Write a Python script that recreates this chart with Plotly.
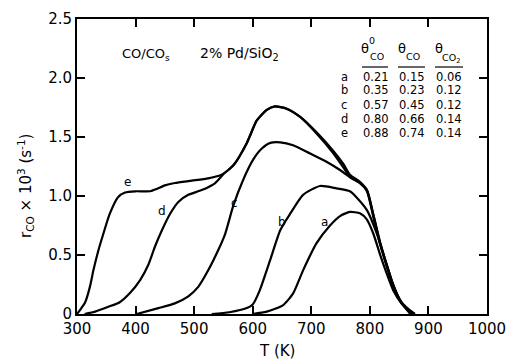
import plotly.graph_objects as go

# ---- data ----
e_T = [300, 306, 314, 322, 328, 336, 345, 356, 370, 382, 400, 425, 436, 450, 467, 496, 524, 547, 567, 590, 607, 624, 638, 658, 681, 709, 738, 755, 766, 783, 795, 806, 817, 829, 840, 854, 874]
e_r = [0, 0.04, 0.10, 0.23, 0.37, 0.53, 0.68, 0.85, 0.99, 1.03, 1.04, 1.04, 1.06, 1.09, 1.11, 1.13, 1.15, 1.18, 1.26, 1.45, 1.64, 1.73, 1.76, 1.74, 1.67, 1.54, 1.38, 1.27, 1.18, 1.12, 1.05, 0.84, 0.61, 0.41, 0.24, 0.10, 0]

d_T = [313, 331, 353, 373, 390, 408, 422, 433, 445, 459, 473, 490, 513, 536, 551, 567, 590, 607, 624, 638, 658, 681, 709, 738, 755, 766, 783, 795, 806, 817, 829, 840, 854, 872]
d_r = [0, 0.02, 0.06, 0.10, 0.175, 0.29, 0.42, 0.57, 0.71, 0.85, 0.95, 1.01, 1.05, 1.11, 1.19, 1.26, 1.45, 1.64, 1.73, 1.76, 1.74, 1.67, 1.53, 1.36, 1.24, 1.16, 1.11, 1.04, 0.82, 0.60, 0.40, 0.23, 0.09, 0]

c_T = [402, 439, 467, 490, 507, 524, 541, 553, 567, 584, 601, 615, 630, 647, 669, 698, 726, 749, 766, 783, 795, 806, 818, 830, 841, 855, 877]
c_r = [0, 0.05, 0.09, 0.15, 0.23, 0.37, 0.54, 0.68, 0.92, 1.14, 1.31, 1.40, 1.45, 1.455, 1.43, 1.36, 1.29, 1.22, 1.16, 1.11, 1.05, 0.84, 0.60, 0.40, 0.23, 0.09, 0]

b_T = [530, 560, 590, 600, 612, 630, 647, 664, 686, 715, 743, 766, 777, 795, 812, 826, 837, 851, 869]
b_r = [0, 0.015, 0.05, 0.08, 0.2, 0.46, 0.71, 0.85, 1.01, 1.085, 1.065, 1.04, 0.99, 0.88, 0.68, 0.46, 0.29, 0.12, 0]

a_T = [600, 624, 652, 669, 686, 709, 732, 749, 766, 783, 795, 806, 817, 829, 840, 854, 871]
a_r = [0, 0.02, 0.076, 0.175, 0.37, 0.60, 0.75, 0.83, 0.865, 0.853, 0.80, 0.68, 0.51, 0.34, 0.20, 0.09, 0]

curve_labels = ["a", "b", "c", "d", "e"]
label_T = [722, 650, 569, 445, 387]
label_r = [0.78, 0.78, 0.94, 0.87, 1.12]

theta0_co = [0.21, 0.35, 0.57, 0.80, 0.88]
theta_co = [0.15, 0.23, 0.45, 0.66, 0.74]
theta_co2 = [0.06, 0.12, 0.12, 0.14, 0.14]

x_ticks = [300, 400, 500, 600, 700, 800, 900, 1000]
y_ticks = [0, 0.5, 1.0, 1.5, 2.0, 2.5]
y_ticktext = ["0", "0.5", "1.0", "1.5", "2.0", "2.5"]

# ---- layout geometry (pixels) ----
W, H = 507, 362
L, R, T, B = 77, 487, 19, 314
FONT = "DejaVu Sans"


def px(x):
    return (x - L) / (R - L)


def py(y):
    return (B - y) / (B - T)


def note(x, y, text, font, **kw):
    d = dict(x=px(x), y=py(y), xref="paper", yref="paper", text=text, font=font,
             showarrow=False, xanchor="center", yanchor="middle")
    d.update(kw)
    return d


fig = go.Figure()
for Tv, rv in [(a_T, a_r), (b_T, b_r), (c_T, c_r), (d_T, d_r), (e_T, e_r)]:
    fig.add_trace(go.Scatter(x=Tv, y=rv, mode="lines",
                             line=dict(color="black", width=2.2, shape="spline", smoothing=0.6),
                             showlegend=False, hoverinfo="skip", cliponaxis=True))

ann = []
for lab, tx, ty in zip(curve_labels, label_T, label_r):
    ann.append(dict(x=tx, y=ty, xref="x", yref="y", text=lab, showarrow=False,
                    xanchor="center", yanchor="middle",
                    font=dict(family=FONT, size=12, color="black")))

f13 = dict(family=FONT, size=13, color="black")
f14 = dict(family=FONT, size=14, color="black")
ann.append(note(146, 54, "CO/CO<sub>s</sub>", f13))
ann.append(note(239, 54, "2% Pd/SiO<sub>2</sub>", f14))

# table headers
hdr_font = dict(family=FONT, size=13, color="black")
small_font = dict(family=FONT, size=9.5, color="black")
ann += [
    note(365, 49, "θ", hdr_font),
    note(372, 40, "0", small_font),
    note(377, 57, "CO", small_font),
    note(402, 48, "θ", hdr_font),
    note(413, 57, "CO", small_font),
    note(439, 48, "θ", hdr_font),
    note(451, 58, "CO<sub>2</sub>", small_font),
]

row_y = [77, 90.5, 104.5, 118.5, 132.5]
tbl_font = dict(family=FONT, size=11.5, color="black")
for i, lab in enumerate(curve_labels):
    for xx, txt in [(344, lab), (376, f"{theta0_co[i]:.2f}"), (411.5, f"{theta_co[i]:.2f}"),
                    (449, f"{theta_co2[i]:.2f}")]:
        ann.append(note(xx, row_y[i], txt, tbl_font))

# axis titles
ann.append(note(25, 186, "r<sub>CO</sub> × 10<sup>3</sup> (s<sup>-1</sup>)",
                dict(family=FONT, size=15, color="black"), textangle=-90))
ann.append(note(277, 351, "T (K)", dict(family=FONT, size=15, color="black")))

shapes = []
for x0, x1 in [(362, 388), (398, 425), (435, 463)]:
    shapes.append(dict(type="line", xref="paper", yref="paper", x0=px(x0), x1=px(x1),
                       y0=py(67), y1=py(67), line=dict(color="black", width=1.2)))

axis_common = dict(showline=True, linecolor="black", linewidth=2, mirror="ticks",
                   ticks="inside", ticklen=8, tickwidth=1.5, tickcolor="black",
                   showgrid=False, zeroline=False, automargin=False,
                   tickfont=dict(family=FONT, size=15, color="black"))
fig.update_layout(
    width=W, height=H,
    margin=dict(l=L, r=W - R, t=T, b=H - B, autoexpand=False),
    paper_bgcolor="white", plot_bgcolor="white",
    xaxis=dict(range=[300, 1000], tickvals=x_ticks, **axis_common),
    yaxis=dict(range=[0, 2.5], tickvals=y_ticks, ticktext=y_ticktext, **axis_common),
    annotations=ann, shapes=shapes,
)
fig.write_html("out.html", config={"displayModeBar": False},
               post_script="document.body.style.margin='0';")
